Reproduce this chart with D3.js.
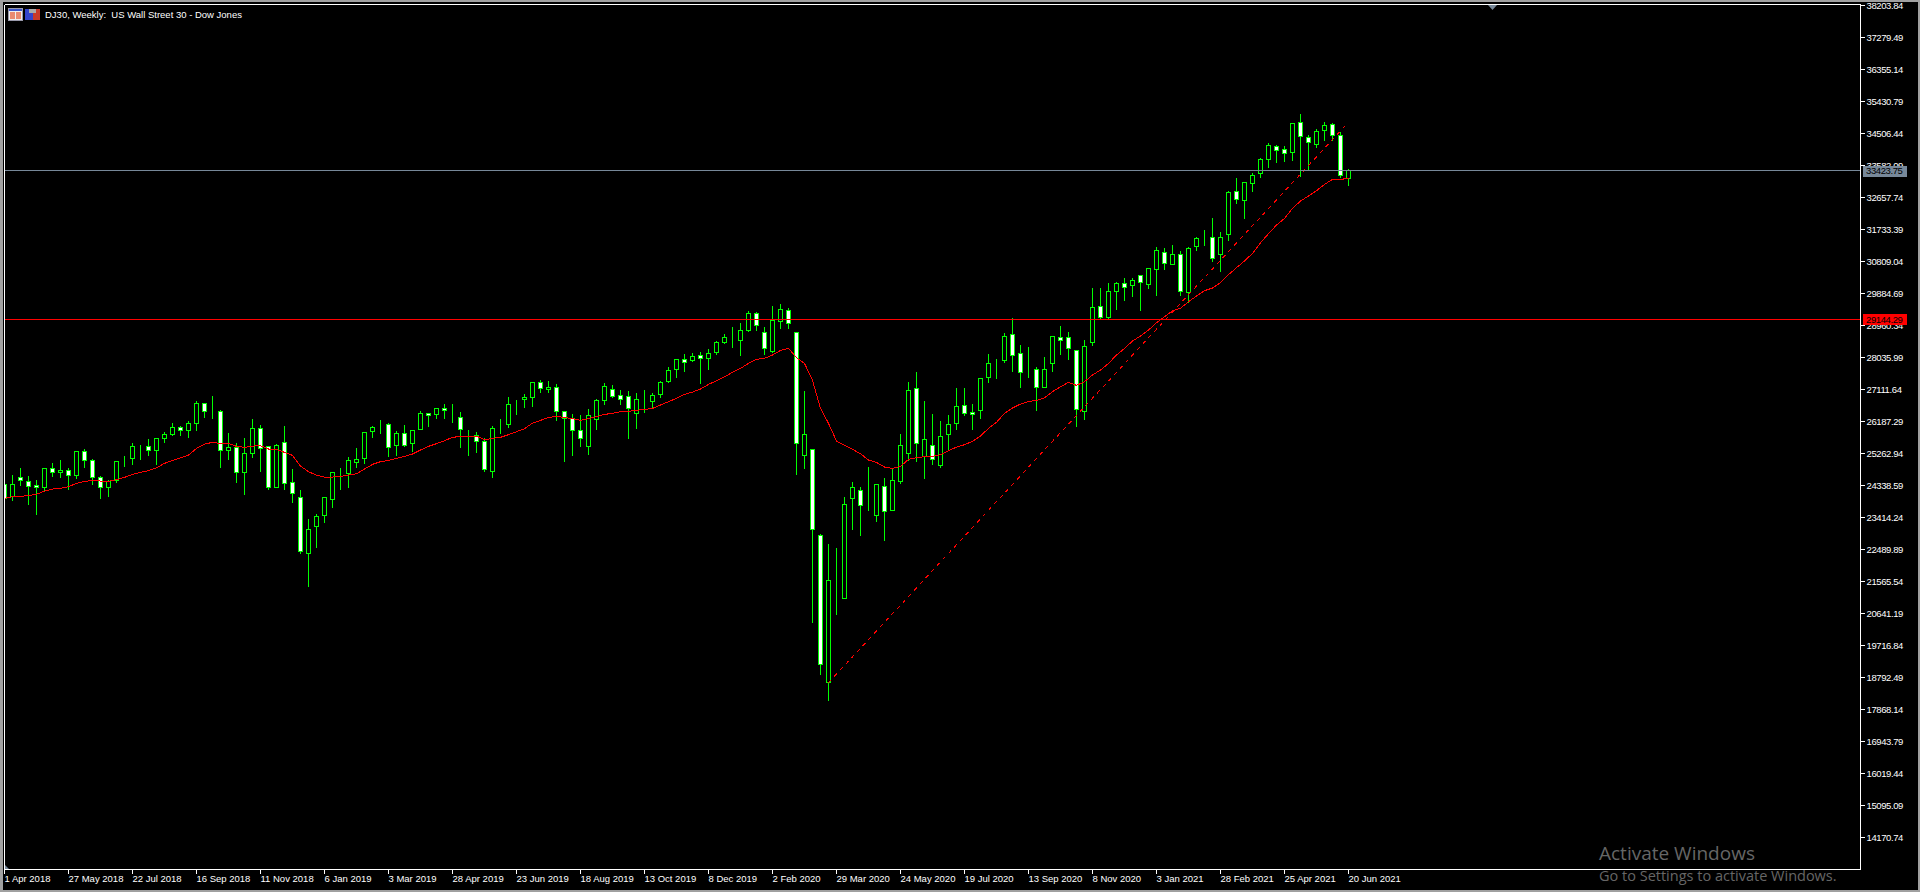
<!DOCTYPE html>
<html><head><meta charset="utf-8">
<script src="https://cdn.jsdelivr.net/npm/d3@7"></script>
<style>
html,body{margin:0;padding:0;background:#000;overflow:hidden}
svg{display:block}
text{font-family:"Liberation Sans",Arial,sans-serif;font-size:9.5px}
</style></head><body><svg id="c" width="1920" height="892"></svg>
<script>
const title = "DJ30, Weekly:  US Wall Street 30 - Dow Jones";
const opens = [24371,24015,24573,24448,24342,24275,24833,24717,24766,24621,
25324,25064,24563,24275,24477,25060,25112,25455,25469,25343,
25690,25806,26018,25921,26123,26711,26476,26480,25343,25440,
24708,25257,25989,25469,24275,25584,24429,23995,22368,23148,
23466,23928,24733,24679,25006,25112,25892,26062,26104,25488,
25844,25555,25960,26422,26393,26566,26524,26306,25773,25777,
25613,24737,26110,26094,26649,26826,26875,27317,27115,27173,
26480,26277,25931,25459,26239,26797,27115,26942,26903,26412,
26793,26759,26961,27337,27683,27982,27943,28098,28001,28175,
28473,28642,28521,28810,29311,28762,28203,29080,29398,28762,
25199,25382,22897,18641,21083,21068,23957,24197,23741,23465,
24313,23610,24448,25257,27144,25170,25497,24910,25805,26123,
26653,26451,26499,27452,27920,27943,28704,28155,27699,27693,
27163,27857,28617,28617,28242,26470,28463,29523,29186,29946,
30177,30110,30409,30139,30582,31073,30726,31015,29917,31246,
31483,31506,31015,31582,32834,32574,33065,33354,33759,34134,
34048,33961,34828,34394,34192,34597,34770,34452,33210];
const highs = [24371,24669,24862,24631,24515,24852,25006,25093,24862,25324,
25411,25122,24631,24515,25035,25218,25594,25526,25700,25729,
25912,26172,26075,26220,26807,26711,26952,26538,25883,25594,
25738,26287,26114,25498,25555,26075,24843,24226,23398,23533,
24024,24746,24862,25189,25449,25873,26075,26249,26162,25931,
26114,25960,26518,26451,26605,26720,26720,26480,25960,25912,
25738,26085,26287,26923,26836,27009,27346,27414,27385,27298,
26509,26432,26393,26576,26855,27317,27269,27125,27096,27038,
27125,27038,27366,27789,28011,28155,28194,28213,28309,28531,
28743,28945,29061,29407,29369,28945,29552,29609,29484,28762,
27096,25382,22955,22676,22560,24034,24467,24323,24900,24371,
24583,24833,25844,27356,27645,26807,26431,26220,26393,27173,
27173,26720,27462,28165,28011,28772,29195,28425,28367,27789,
28078,28685,28974,28800,28242,28569,30072,30062,30216,30245,
30351,30351,30447,30640,31256,31227,31314,31140,31256,31535,
31747,32094,31689,32854,33239,33094,33383,33817,34250,34202,
34163,34828,35097,34481,34654,34857,34828,34577,33499];
const lows = [23966,23918,24352,23803,23514,24159,24612,24583,24236,24544,
24872,24380,23976,24034,24438,24900,24958,25103,25218,24958,
25594,25796,25796,25738,25940,26316,26287,24872,25103,24438,
24092,25160,24756,24236,24275,24236,23860,22387,21434,22560,
23283,23716,24236,24294,24872,24987,25738,25844,25189,25218,
25478,25324,25960,26056,26287,26277,26172,25449,25218,25305,
24756,24583,25854,26027,26403,26605,26634,27038,27038,26229,
25045,25218,25478,25247,25969,26692,26894,26692,25709,25998,
26460,26605,26894,27327,27472,27645,27934,27298,27703,28136,
28454,28338,28107,28781,28829,28136,28175,28887,28887,24669,
24843,20394,18891,18140,20625,21068,23080,22907,23629,23311,
22762,23610,24409,25074,25045,24554,24958,24871,25391,25969,
26374,25969,26287,27327,27443,27905,27645,27183,27471,26518,
27163,27645,28136,27991,26056,26258,28396,29166,29157,29436,
29696,29812,29407,30043,29840,30592,30726,29840,29638,31140,
31285,30823,30534,31428,32497,32064,32844,33248,33537,33682,
33711,33740,33277,33451,34106,34317,34317,33229,33017];
const closes = [23966,24371,24486,24313,24275,24833,24717,24775,24621,25324,
25064,24573,24284,24467,25035,25064,25469,25459,25343,25700,
25815,26018,25921,26133,26711,26470,26480,25343,25440,24708,
25266,25989,25411,24275,25498,24390,24111,22426,23071,23446,
23995,24717,24737,25064,25093,25873,26018,26066,25440,25844,
25498,25931,26422,26364,26566,26509,26528,25960,25777,25603,
24794,25989,26114,26682,26653,26884,27317,27135,27173,26470,
26277,25931,25690,26364,26797,27202,26903,26817,26557,26826,
26797,26942,27317,27664,27982,27895,28069,28011,28155,28473,
28618,28646,28820,29311,28955,28290,29109,29426,29012,25546,
25815,23071,19161,21597,21087,23793,24284,23754,23745,24371,
23581,24486,25497,27086,25546,25671,25083,25757,26104,26624,
26412,26383,27433,27866,27924,28646,28088,27597,27703,27163,
27693,28646,28521,28290,26528,28357,29484,29186,29946,30177,
30062,30264,30206,30611,31131,30755,31015,29946,31189,31478,
31487,30900,31506,32805,32603,33094,33297,33759,34163,34019,
33932,34799,34423,34250,34568,34741,34452,33297,33441];
const maValues = [23966,24015,24024,24053,24082,24178,24236,24255,24303,24400,
24457,24486,24467,24457,24506,24573,24660,24717,24766,24852,
24977,25064,25141,25218,25411,25536,25584,25555,25555,25469,
25440,25478,25488,25392,25382,25295,25209,24900,24737,24640,
24583,24583,24602,24640,24679,24814,24949,25026,25064,25122,
25180,25247,25363,25469,25546,25632,25729,25757,25767,25767,
25661,25700,25729,25806,25892,25979,26143,26220,26306,26335,
26306,26268,26220,26268,26326,26393,26422,26470,26480,26509,
26537,26566,26663,26759,26855,26971,27038,27125,27260,27366,
27481,27606,27722,27866,27982,28011,28107,28242,28300,28030,
27866,27375,26566,26133,25623,25497,25382,25257,25074,25006,
24872,24833,24891,25093,25141,25170,25180,25228,25343,25449,
25517,25613,25767,25989,26162,26422,26576,26691,26768,26797,
26874,27048,27192,27317,27231,27337,27529,27674,27866,28107,
28300,28511,28656,28829,29041,29214,29388,29455,29648,29812,
29966,30043,30197,30428,30630,30823,31044,31352,31612,31862,
32054,32343,32555,32700,32854,33037,33181,33181,33210];
const trendIdx = [103,168];
const trendPrice = [18642,34830];
const bidPrice = 33423.75;
const levelPrice = 29144.29;
const priceTicks = [38203.84,37279.49,36355.14,35430.79,34506.44,33582.09,32657.74,31733.39,30809.04,
29884.69,28960.34,28035.99,27111.64,26187.29,25262.94,24338.59,23414.24,22489.89,21565.54,
20641.19,19716.84,18792.49,17868.14,16943.79,16019.44,15095.09,14170.74];
const dateLabels = ["1 Apr 2018","27 May 2018","22 Jul 2018","16 Sep 2018","11 Nov 2018","6 Jan 2019","3 Mar 2019","28 Apr 2019",
"23 Jun 2019","18 Aug 2019","13 Oct 2019","8 Dec 2019","2 Feb 2020","29 Mar 2020","24 May 2020","19 Jul 2020","13 Sep 2020",
"8 Nov 2020","3 Jan 2021","28 Feb 2021","25 Apr 2021","20 Jun 2021"];
const weeksPerLabel = 8;

const svg = d3.select("#c");
const W=1920,H=892;
const plotL=4.5, plotR=1860.5, plotT=4.5, plotB=869.5;
const green="#00ff00", red="#ff0000", slate="#778899";
const x = d3.scaleLinear().domain([0,168]).range([4.5,1348.5]);
const y = d3.scaleLinear().domain([38203.84,14170.74]).range([5.5,837.5]);
const py = v => Math.round(y(v)-0.5)+0.5;

// window chrome
svg.append("rect").attr("width",W).attr("height",H).attr("fill","#000");
[[0,0,W,2],[0,0,3,H],[0,890,W,2],[1918,0,2,H]].forEach(r=>svg.append("rect").attr("x",r[0]).attr("y",r[1]).attr("width",r[2]).attr("height",r[3]).attr("fill","#a0a0a0"));

svg.append("defs").append("clipPath").attr("id","plot").append("rect").attr("x",5).attr("y",5).attr("width",1855).attr("height",864);
const g = svg.append("g").attr("clip-path","url(#plot)").attr("shape-rendering","crispEdges");
const idx = d3.range(opens.length);

g.append("g").selectAll("line").data(idx).join("line")
 .attr("x1",i=>x(i)).attr("x2",i=>x(i)).attr("y1",i=>py(highs[i])).attr("y2",i=>py(lows[i])+0.5)
 .attr("stroke",green).attr("stroke-width",1);
g.append("g").selectAll("rect").data(idx).join("rect")
 .attr("x",i=>x(i)-2).attr("width",4)
 .attr("y",i=>py(Math.max(opens[i],closes[i])))
 .attr("height",i=>Math.max(py(Math.min(opens[i],closes[i]))-py(Math.max(opens[i],closes[i])),0))
 .attr("fill",i=>closes[i]>=opens[i]?"#000":"#fff")
 .attr("stroke",green).attr("stroke-width",1);

const ln = d3.line().x(i=>x(i)).y(i=>y(maValues[i]));
g.append("path").attr("d",ln(idx)).attr("fill","none").attr("stroke",red).attr("stroke-width",1).attr("shape-rendering","crispEdges");
g.append("line").attr("x1",x(trendIdx[0])).attr("y1",y(trendPrice[0])).attr("x2",x(trendIdx[1])).attr("y2",y(trendPrice[1]))
 .attr("stroke",red).attr("stroke-width",1).attr("stroke-dasharray","4 4.4").attr("shape-rendering","crispEdges");
[[bidPrice,slate],[levelPrice,red]].forEach(d=>g.append("line").attr("x1",plotL).attr("x2",plotR).attr("y1",py(d[0])).attr("y2",py(d[0])).attr("stroke",d[1]));

// axes
const yAxis = d3.axisRight(y).tickValues(priceTicks).tickFormat(d3.format(".2f")).tickSize(4).tickPadding(2).offset(0);
const ya = svg.append("g").attr("transform",`translate(${plotR},0)`).attr("shape-rendering","crispEdges").call(yAxis);
const tickIdx = dateLabels.map((d,i)=>i*weeksPerLabel);
const xAxis = d3.axisBottom(x).tickValues(tickIdx).tickFormat((d,i)=>dateLabels[i]).tickSize(4).tickPadding(1).offset(0);
const xa = svg.append("g").attr("transform",`translate(0,${plotB})`).attr("shape-rendering","crispEdges").call(xAxis);
[ya,xa].forEach(a=>{a.select(".domain").remove();a.selectAll("line").attr("stroke","#fff");a.selectAll("text").attr("fill","#fff").attr("font-family",null).attr("font-size",null);});
ya.selectAll("text").attr("dy","0.36em").style("letter-spacing","-0.4px");
xa.selectAll("text").attr("text-anchor","start").attr("dy","0.8em");

// frame
const frame = svg.append("g").attr("stroke","#fff").attr("shape-rendering","crispEdges");
frame.append("line").attr("x1",plotL).attr("x2",plotR).attr("y1",plotT).attr("y2",plotT);
frame.append("line").attr("x1",plotL).attr("x2",plotR).attr("y1",plotB).attr("y2",plotB);
frame.append("line").attr("x1",plotL).attr("x2",plotL).attr("y1",plotT).attr("y2",plotB);
frame.append("line").attr("x1",plotR).attr("x2",plotR).attr("y1",plotT).attr("y2",plotB);

// price tags
[[bidPrice,slate],[levelPrice,red]].forEach(d=>{
 const c=y(d[0]);
 svg.append("rect").attr("x",1863).attr("y",Math.round(c)-5).attr("width",44).attr("height",11).attr("fill",d[1]);
 svg.append("text").attr("x",1866).attr("y",c).attr("dy","0.36em").attr("fill","#000").style("letter-spacing","-0.4px").text(d3.format(".2f")(d[0]));
});

// markers
svg.append("path").attr("d","M1488,5L1497,5L1492.5,10Z").attr("fill",slate);
svg.append("path").attr("d","M5,865L5,869L9,869Z").attr("fill",slate);

// title and icons
const ic = svg.append("g").attr("shape-rendering","crispEdges");
ic.append("rect").attr("x",8.5).attr("y",8.5).attr("width",14).attr("height",12).attr("fill","#eee").attr("stroke","#99a");
ic.append("rect").attr("x",9).attr("y",9).attr("width",13).attr("height",2).attr("fill","#3a55c8");
ic.append("rect").attr("x",10).attr("y",12).attr("width",5).attr("height",7).attr("fill","#e88a70");
ic.append("rect").attr("x",16).attr("y",12).attr("width",5).attr("height",7).attr("fill","#e88a70");
ic.append("rect").attr("x",25).attr("y",9).attr("width",8).attr("height",11).attr("fill","#3344cc");
ic.append("rect").attr("x",33).attr("y",9).attr("width",7).attr("height",11).attr("fill","#c8392b");
ic.append("rect").attr("x",29).attr("y",9).attr("width",7).attr("height",4).attr("fill","#aaa");
svg.append("text").attr("x",45).attr("y",18).attr("fill","#fff").style("white-space","pre").text(title);

// OS watermark
svg.append("text").attr("x",1599).attr("y",860).attr("fill","#666").style("font-family","'Open Sans'").style("font-size","19px").text("Activate Windows");
svg.append("text").attr("x",1599).attr("y",881).attr("fill","#666").style("font-family","'Open Sans'").style("font-size","14.5px").text("Go to Settings to activate Windows.");
</script></body></html>
